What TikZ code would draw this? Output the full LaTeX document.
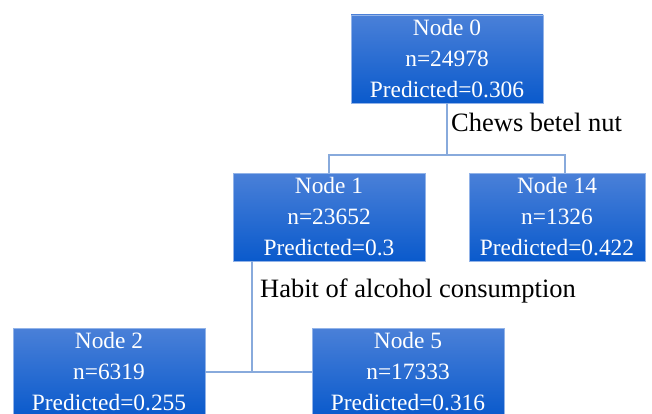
\documentclass[tikz,border=0pt]{standalone}
\usepackage{fontspec}
\setmainfont{Liberation Serif}
\usepackage{tikz}

\definecolor{boxtop}{RGB}{74,128,216}
\definecolor{boxbottom}{RGB}{10,90,204}
\definecolor{linkblue}{RGB}{136,170,220}

\begin{document}
\begin{tikzpicture}[x=1pt, y=-1pt,
  treebox/.style={top color=boxtop, bottom color=boxbottom, draw=boxtop!60!white, line width=0.6pt,
    text=white, align=center, inner sep=0pt, minimum width=192pt, minimum height=88pt,
    font=\fontsize{23.4}{31}\selectfont},
  split/.style={font=\fontsize{26.5}{30}\selectfont, inner sep=0pt, anchor=base west},
  link/.style={linkblue, line width=1.3pt}]
\useasboundingbox (0,0) rectangle (652,414);

\node [treebox] (n0) at (447,59) {Node 0\\n=24978\\Predicted=0.306};
\node [treebox] (n1) at (329,217) {Node 1\\n=23652\\Predicted=0.3};
\node [treebox, minimum width=176pt] (n14) at (557,217) {Node 14\\n=1326\\Predicted=0.422};
\node [treebox] (n2) at (109,372) {Node 2\\n=6319\\Predicted=0.255};
\node [treebox] (n5) at (408,372) {Node 5\\n=17333\\Predicted=0.316};

\node [split] (s0) at (451,132) {Chews betel nut};
\node [split] (s1) at (260,297) {Habit of alcohol consumption};

\coordinate (fork0) at (447,155);
\coordinate (fork1) at (252,372);

\draw [link] (n0.south) -- (fork0);
\draw [link] (n1.north) |- (fork0) -| ([xshift=8pt]n14.north);
\draw [link] (fork1 |- n1.south) -- (fork1);
\draw [link] (n2.east) -- (n5.west);
\end{tikzpicture}
\end{document}
